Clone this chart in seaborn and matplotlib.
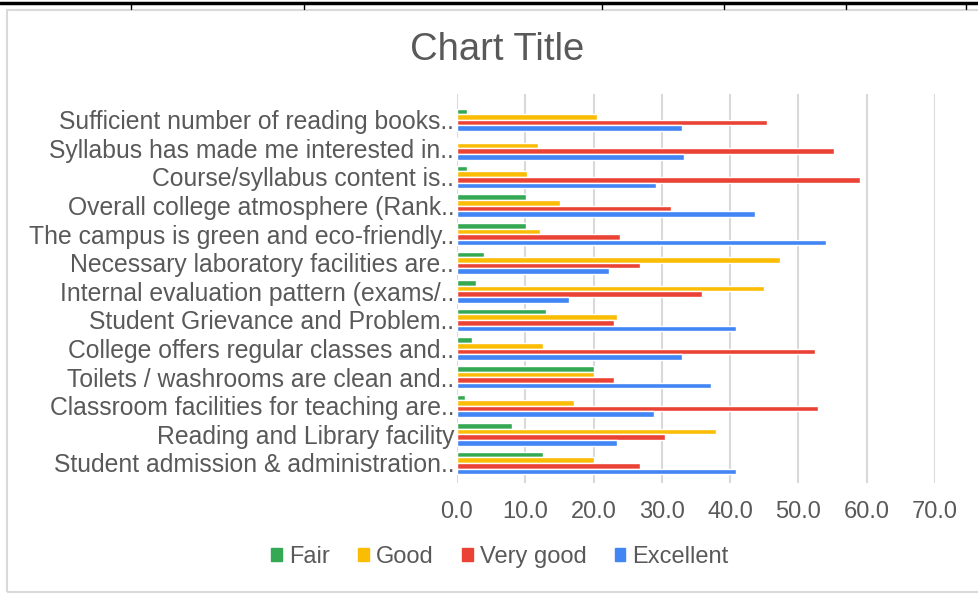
import pandas as pd
import numpy as np
import matplotlib
matplotlib.use("Agg")
import matplotlib.pyplot as plt
from matplotlib.patches import Rectangle
from matplotlib.lines import Line2D
from matplotlib.ticker import FormatStrFormatter
import seaborn as sns

# ============================
# DATA
# ============================
categories = [
    "Sufficient number of reading books..",
    "Syllabus has made me interested in..",
    "Course/syllabus content is..",
    "Overall college atmosphere (Rank..",
    "The campus is green and eco-friendly..",
    "Necessary laboratory facilities are..",
    "Internal evaluation pattern (exams/..",
    "Student Grievance and Problem..",
    "College offers regular classes and..",
    "Toilets / washrooms are clean and..",
    "Classroom facilities for teaching are..",
    "Reading and Library facility",
    "Student admission & administration..",
]
fair = [1.5, 0.0, 1.5, 10.1, 10.1, 3.9, 2.8, 13.0, 2.2, 20.1, 1.1, 8.1, 12.6]
good = [20.5, 11.8, 10.2, 15.1, 12.1, 47.3, 45.0, 23.5, 12.6, 20.1, 17.1, 37.9, 20.1]
very_good = [45.4, 55.2, 59.0, 31.4, 23.9, 26.8, 35.9, 23.0, 52.5, 23.0, 52.9, 30.4, 26.8]
excellent = [32.9, 33.3, 29.2, 43.7, 54.1, 22.2, 16.4, 40.8, 32.9, 37.2, 28.9, 23.5, 40.8]

series = ["Fair", "Good", "Very good", "Excellent"]
colors = ["#34a853", "#fbbc04", "#ea4335", "#4285f4"]
xticks = [0, 10, 20, 30, 40, 50, 60, 70]

df = pd.DataFrame({"item": categories, "Fair": fair, "Good": good,
                   "Very good": very_good, "Excellent": excellent})
long_df = df.melt(id_vars="item", var_name="rating", value_name="pct")

# ============================
# PLOT
# ============================
sns.set_style("white")
plt.rcParams["font.family"] = ["Liberation Sans", "DejaVu Sans"]
txt = "#595959"

fig = plt.figure(figsize=(9.79, 5.94), dpi=100)
ax = fig.add_axes([457 / 979, 1 - 483 / 594, (935 - 457) / 979, (483 - 94) / 594])

sns.barplot(data=long_df, y="item", x="pct", hue="rating", hue_order=series,
            order=categories, palette=colors, width=0.78, saturation=1,
            orient="h", ax=ax, legend=False, zorder=3)

ax.set_xlim(0, 70)
ax.set_ylim(12.7, -0.9)
ax.set_xticks(xticks)
ax.xaxis.set_major_formatter(FormatStrFormatter("%.1f"))
ax.grid(axis="x", color="#d9d9d9", lw=1.5, zorder=0)
ax.grid(axis="y", visible=False)
for s in ax.spines.values():
    s.set_visible(False)
ax.tick_params(axis="both", length=0, labelsize=17, colors=txt)
ax.tick_params(axis="y", pad=2, labelsize=17.8)
ax.tick_params(axis="x", pad=13)
ax.set_xlabel("")
ax.set_ylabel("")

fig.text(497 / 979, 1 - 50 / 594, "Chart Title", ha="center", va="center",
         fontsize=27.5, color=txt)

handles = [Rectangle((0, 0), 1, 1, color=c) for c in colors]
fig.legend(handles, series, loc="center", bbox_to_anchor=(500 / 979, 1 - 557 / 594),
           ncol=4, frameon=False, fontsize=17, handlelength=0.45, handleheight=0.45,
           handletextpad=0.3, columnspacing=1.2, labelcolor=txt)

# chart border and the table line above it
fig.patches.append(Rectangle((7 / 979, 2 / 594), 1.2, (592 - 10) / 594,
                             transform=fig.transFigure, fill=False,
                             ec="#d9d9d9", lw=1.5))
fig.lines.append(Line2D([0, 1], [1 - 3 / 594, 1 - 3 / 594], transform=fig.transFigure,
                        color="black", lw=2.5))
for xv in [131, 304, 602, 724, 846, 966]:
    fig.lines.append(Line2D([xv / 979, xv / 979], [1 - 3 / 594, 1 - 9 / 594],
                            transform=fig.transFigure, color="black", lw=1))

fig.savefig("out.png", dpi=100, facecolor="white")
